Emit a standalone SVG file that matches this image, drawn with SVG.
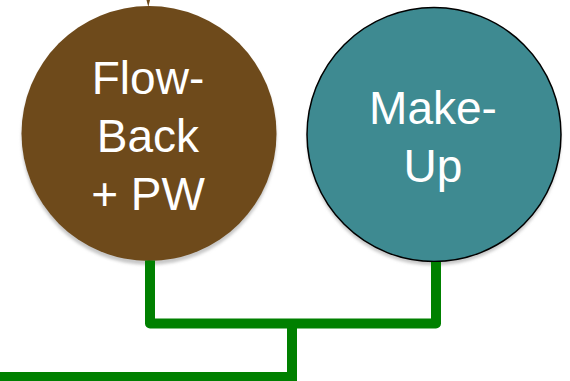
<svg xmlns="http://www.w3.org/2000/svg" width="570" height="381" viewBox="0 0 570 381">
<style>
.lbl{font-family:"Liberation Sans",Arial,sans-serif;font-size:46px;fill:#ffffff;text-anchor:middle}
.pipe{fill:none;stroke:#008000;stroke-width:10}
.shadow{fill:#c8c8c8;filter:url(#blur)}
</style>
<defs>
<filter id="blur" x="-10%" y="-10%" width="120%" height="120%"><feGaussianBlur stdDeviation="1.5"/></filter>
</defs>
<rect width="570" height="381" fill="#ffffff"/>
<g id="node-flowback">
<circle class="shadow" cx="149" cy="137.5" r="127.5"/>
<circle cx="149" cy="133.5" r="127.5" fill="#6E4A1B"/>
<text class="lbl" x="148" y="94">Flow-</text>
<text class="lbl" x="148" y="152">Back</text>
<text class="lbl" x="148" y="210">+ PW</text>
</g>
<g id="node-makeup">
<circle class="shadow" cx="434" cy="138.5" r="127"/>
<circle cx="434" cy="134.5" r="127" fill="#3E8A91" stroke="#000000" stroke-width="1.5"/>
<text class="lbl" x="433" y="124">Make-</text>
<text class="lbl" x="433" y="182">Up</text>
</g>
<g id="connectors">
<polygon points="146.5,0 150,0 148.3,7" fill="#6E4A1B"/>
<path class="pipe" d="M150,260.5 V323.5 H436 V262" stroke-linejoin="round"/>
<path class="pipe" d="M292,323.5 V377 H-5"/>
</g>
</svg>
